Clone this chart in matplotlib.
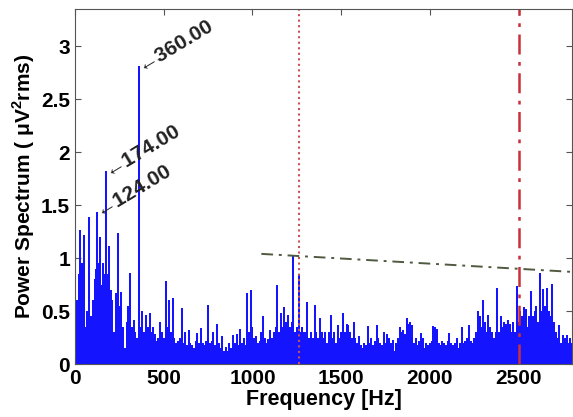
import matplotlib.pyplot as plt
import numpy as np

plt.rcParams['font.family'] = ['Liberation Sans', 'DejaVu Sans']
plt.rcParams['mathtext.fontset'] = 'custom'
plt.rcParams['mathtext.rm'] = 'Liberation Sans'
plt.rcParams['mathtext.bf'] = 'Liberation Sans:bold'

# spectrum amplitudes on a 10 Hz grid, 0 .. 2800 Hz
power = [
    1.06, 0.60, 0.85, 1.27, 0.95, 1.22, 0.35, 0.50, 1.39, 0.45,   # 0-90
    0.60, 0.80, 0.90, 0.95, 1.20, 0.75, 0.95, 0.85, 0.85, 1.11,   # 100-190
    0.70, 0.60, 0.30, 0.67, 1.24, 0.55, 0.68, 0.35, 0.15, 0.40,   # 200-290
    0.55, 0.86, 0.35, 0.42, 0.30, 0.25, 0.30, 0.35, 0.50, 0.30,   # 300-390
    0.46, 0.35, 0.48, 0.30, 0.35, 0.28, 0.22, 0.25, 0.40, 0.30,   # 400-490
    0.25, 0.78, 0.35, 0.60, 0.30, 0.62, 0.25, 0.20, 0.22, 0.25,   # 500-590
    0.53, 0.20, 0.30, 0.18, 0.32, 0.20, 0.18, 0.15, 0.22, 0.29,   # 600-690
    0.20, 0.34, 0.20, 0.18, 0.22, 0.56, 0.20, 0.22, 0.30, 0.18,   # 700-790
    0.38, 0.20, 0.15, 0.26, 0.12, 0.16, 0.12, 0.20, 0.15, 0.27,   # 800-890
    0.20, 0.28, 0.18, 0.33, 0.20, 0.25, 0.18, 0.67, 0.30, 0.70,   # 900-990
    0.35, 0.25, 0.26, 0.20, 0.22, 0.30, 0.45, 0.25, 0.20, 0.24,   # 1000-1090
    0.32, 0.25, 0.30, 0.35, 0.75, 0.30, 0.48, 0.35, 0.54, 0.40,   # 1100-1190
    0.46, 0.35, 0.40, 1.02, 0.30, 0.35, 0.85, 0.30, 0.35, 0.30,   # 1200-1290
    0.30, 0.59, 0.25, 0.30, 0.25, 0.56, 0.30, 0.25, 0.43, 0.30,   # 1300-1390
    0.25, 0.30, 0.20, 0.30, 0.46, 0.25, 0.30, 0.20, 0.37, 0.25,   # 1400-1490
    0.30, 0.48, 0.30, 0.38, 0.37, 0.30, 0.25, 0.40, 0.25, 0.20,   # 1500-1590
    0.26, 0.18, 0.15, 0.20, 0.18, 0.36, 0.20, 0.25, 0.18, 0.22,   # 1600-1690
    0.37, 0.25, 0.20, 0.18, 0.30, 0.20, 0.28, 0.25, 0.20, 0.23,   # 1700-1790
    0.12, 0.20, 0.25, 0.35, 0.30, 0.32, 0.28, 0.43, 0.38, 0.40,   # 1800-1890
    0.37, 0.20, 0.25, 0.18, 0.22, 0.29, 0.25, 0.15, 0.20, 0.18,   # 1900-1990
    0.20, 0.22, 0.36, 0.35, 0.33, 0.20, 0.18, 0.22, 0.20, 0.18,   # 2000-2090
    0.22, 0.29, 0.20, 0.18, 0.20, 0.25, 0.15, 0.20, 0.35, 0.20,   # 2100-2190
    0.22, 0.25, 0.37, 0.22, 0.20, 0.25, 0.30, 0.50, 0.45, 0.35,   # 2200-2290
    0.60, 0.40, 0.30, 0.46, 0.35, 0.30, 0.25, 0.30, 0.72, 0.30,   # 2300-2390
    0.45, 0.35, 0.40, 0.38, 0.42, 0.38, 0.30, 0.40, 0.30, 0.74,   # 2400-2490
    0.40, 0.50, 0.45, 0.54, 0.52, 0.35, 0.45, 0.69, 0.45, 0.50,   # 2500-2590
    0.55, 0.40, 0.86, 0.50, 0.71, 0.55, 0.72, 0.50, 0.45, 0.76,   # 2600-2690
    0.40, 0.30, 0.25, 0.37, 0.20, 0.27, 0.25, 0.27, 0.20, 0.25,   # 2700-2790
    0.20,                                                         # 2800
]
freq = np.arange(len(power)) * 10

# labelled peaks
peak_freq = [124, 174, 360]
peak_power = [1.44, 1.82, 2.81]

# reference markers
f_dotted = 1260
f_dashdot = 2500
trend_f = [1050, 2800]
trend_p = [1.04, 0.87]

fig = plt.figure(figsize=(5.73, 4.17), dpi=100)
ax = fig.add_axes([0.131, 0.127, 0.867, 0.851])

ax.vlines(freq, 0, power, color='#1414ff', lw=1.45)
ax.vlines(peak_freq, 0, peak_power, color='#1414ff', lw=1.45)

ax.axvline(f_dotted, color='#c8505a', ls=':', lw=1.5)
ax.axvline(f_dashdot, color='#c8303a', ls=(0, (8, 3, 1.5, 3)), lw=1.8)
ax.plot(trend_f, trend_p, color='#4f5a40', ls=(0, (6, 3, 1.5, 3)), lw=1.4)

for f, p in zip(peak_freq, peak_power):
    ax.text(f, p, '\u2190%.2f' % f, rotation=31, rotation_mode='anchor',
            ha='left', va='center', fontsize=15, fontweight='bold',
            color='#222222')

ax.set_xlim(0, 2800)
ax.set_ylim(0, 3.35)
ax.set_xticks([0, 500, 1000, 1500, 2000, 2500])
ax.set_yticks([0, 0.5, 1, 1.5, 2, 2.5, 3])
ax.set_yticklabels(['0', '0.5', '1', '1.5', '2', '2.5', '3'])
ax.tick_params(direction='in', top=True, right=True, length=4,
               labelsize=15, colors='#555555', labelcolor='black')
for lab in ax.get_xticklabels() + ax.get_yticklabels():
    lab.set_fontweight('bold')
for s in ax.spines.values():
    s.set_color('#555555')

ax.set_xlabel('Frequency [Hz]', fontsize=15.5, fontweight='bold', labelpad=1)
ax.set_ylabel('Power Spectrum ( \u03bcV$^\\mathbf{2}$rms)', fontsize=15,
              fontweight='bold', labelpad=3)

fig.savefig('out.png', dpi=100)
